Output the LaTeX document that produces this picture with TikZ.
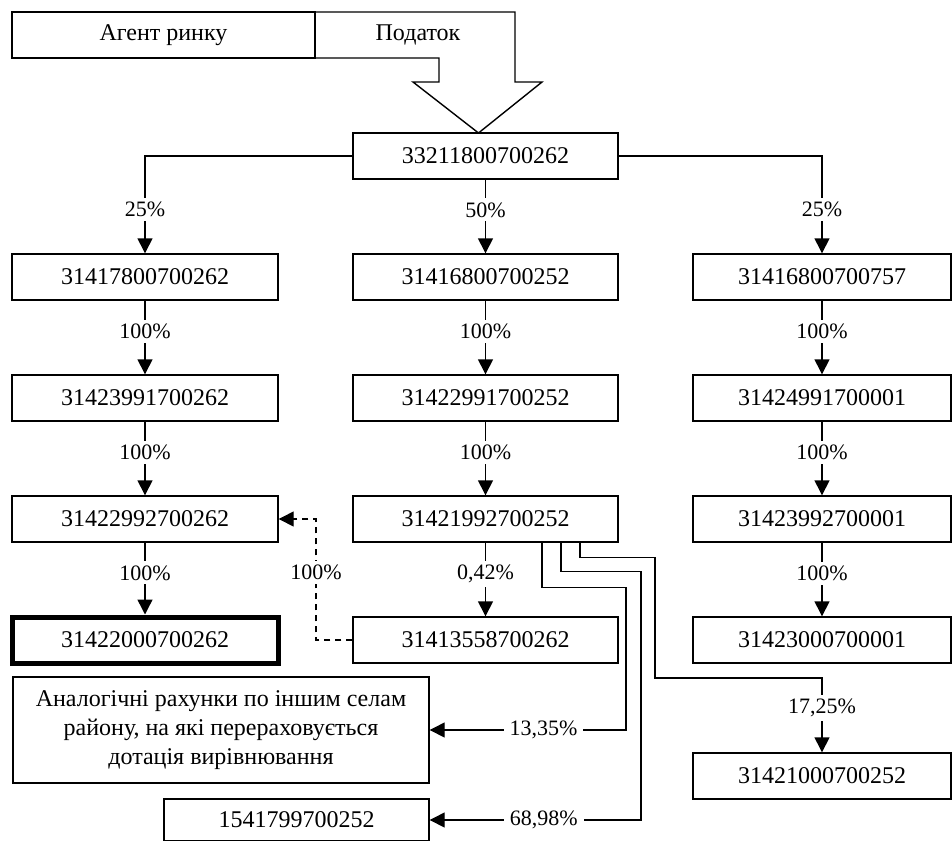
\documentclass[tikz,border=0pt]{standalone}
\usepackage{fontspec}
\setmainfont{Liberation Serif}
\usetikzlibrary{arrows.meta}
\begin{document}
\begin{tikzpicture}[x=1pt,y=-1pt,
  box/.style={draw, line width=1.4pt, inner sep=0pt, minimum height=46pt, font=\fontsize{24}{29}\selectfont, align=center},
  lab/.style={fill=white, inner xsep=6pt, inner ysep=4pt, font=\fontsize{22}{26}\selectfont},
  arr/.style={line width=1.4pt, -{Triangle[length=15pt,width=15pt]}},
  ln/.style={line width=1.4pt, line join=miter}]
\useasboundingbox (0,0) rectangle (952,840);
% top
\node[box, minimum width=303pt] (ag) at (163.5,35) {Агент ринку};
\draw[ln] (315,12) -- (515,12) -- (515,82) -- (542,82) -- (478.5,133) -- (413,82) -- (439,82) -- (439,58) -- (315,58);
\node[font=\fontsize{24}{29}\selectfont] (pod) at (418,35) {Податок};
\node[box, minimum width=265pt] (top) at (485.5,156) {33211800700262};
% left column
\node[box, minimum width=266pt] (l1) at (145,277) {31417800700262};
\node[box, minimum width=266pt] (l2) at (145,398) {31423991700262};
\node[box, minimum width=266pt] (l3) at (145,519) {31422992700262};
\node[box, minimum width=266pt, line width=5pt] (l4) at (145,640) {31422000700262};
% middle column
\node[box, minimum width=265pt] (m1) at (485.5,277) {31416800700252};
\node[box, minimum width=265pt] (m2) at (485.5,398) {31422991700252};
\node[box, minimum width=265pt] (m3) at (485.5,519) {31421992700252};
\node[box, minimum width=265pt] (m4) at (485.5,640) {31413558700262};
% right column
\node[box, minimum width=258pt] (r1) at (822,277) {31416800700757};
\node[box, minimum width=258pt] (r2) at (822,398) {31424991700001};
\node[box, minimum width=258pt] (r3) at (822,519) {31423992700001};
\node[box, minimum width=258pt] (r4) at (822,640) {31423000700001};
\node[box, minimum width=258pt] (r5) at (822,776) {31421000700252};
% bottom left
\node[box, minimum width=416pt, minimum height=106pt] (an) at (221,730) {Аналогічні рахунки по іншим селам\\району, на які перераховується\\дотація вирівнювання};
\node[box, minimum width=265pt, minimum height=42pt] (b1) at (296.5,820) {1541799700252};
% connectors from top
\draw[arr] (top.west) -| node[lab,pos=0.775]{25\%} (l1.north);
\draw[arr] (top.east) -| node[lab,pos=0.775]{25\%} (r1.north);
\draw[arr] (top.south) -- node[lab,pos=0.41]{50\%} (m1.north);
% vertical chains
\draw[arr] (l1.south) -- node[lab,pos=0.42]{100\%} (l2.north);
\draw[arr] (l2.south) -- node[lab,pos=0.42]{100\%} (l3.north);
\draw[arr] (l3.south) -- node[lab,pos=0.42]{100\%} (l4.north);
\draw[arr] (m1.south) -- node[lab,pos=0.42]{100\%} (m2.north);
\draw[arr] (m2.south) -- node[lab,pos=0.42]{100\%} (m3.north);
\draw[arr] (m3.south) -- node[lab,pos=0.42]{0,42\%} (m4.north);
\draw[arr] (r1.south) -- node[lab,pos=0.42]{100\%} (r2.north);
\draw[arr] (r2.south) -- node[lab,pos=0.42]{100\%} (r3.north);
\draw[arr] (r3.south) -- node[lab,pos=0.42]{100\%} (r4.north);
% dashed return
\draw[arr, dash pattern=on 6pt off 5pt] (m4.west) -- (316,640) -- node[lab,pos=0.56]{100\%} (316,519) -- (l3.east);
% branches from m3
\draw[arr] ([xshift=56.5pt]m3.south) -- ++(0,45) -| (626,730) -- node[lab,pos=0.42]{13,35\%} (an.east);
\draw[arr] ([xshift=75.5pt]m3.south) -- ++(0,29) -| (641,820) -- node[lab,pos=0.46]{68,98\%} (b1.east);
\draw[arr] ([xshift=94.5pt]m3.south) -- ++(0,15) -| (655,678) -| node[lab,pos=0.7]{17,25\%} (r5.north);
\end{tikzpicture}
\end{document}
